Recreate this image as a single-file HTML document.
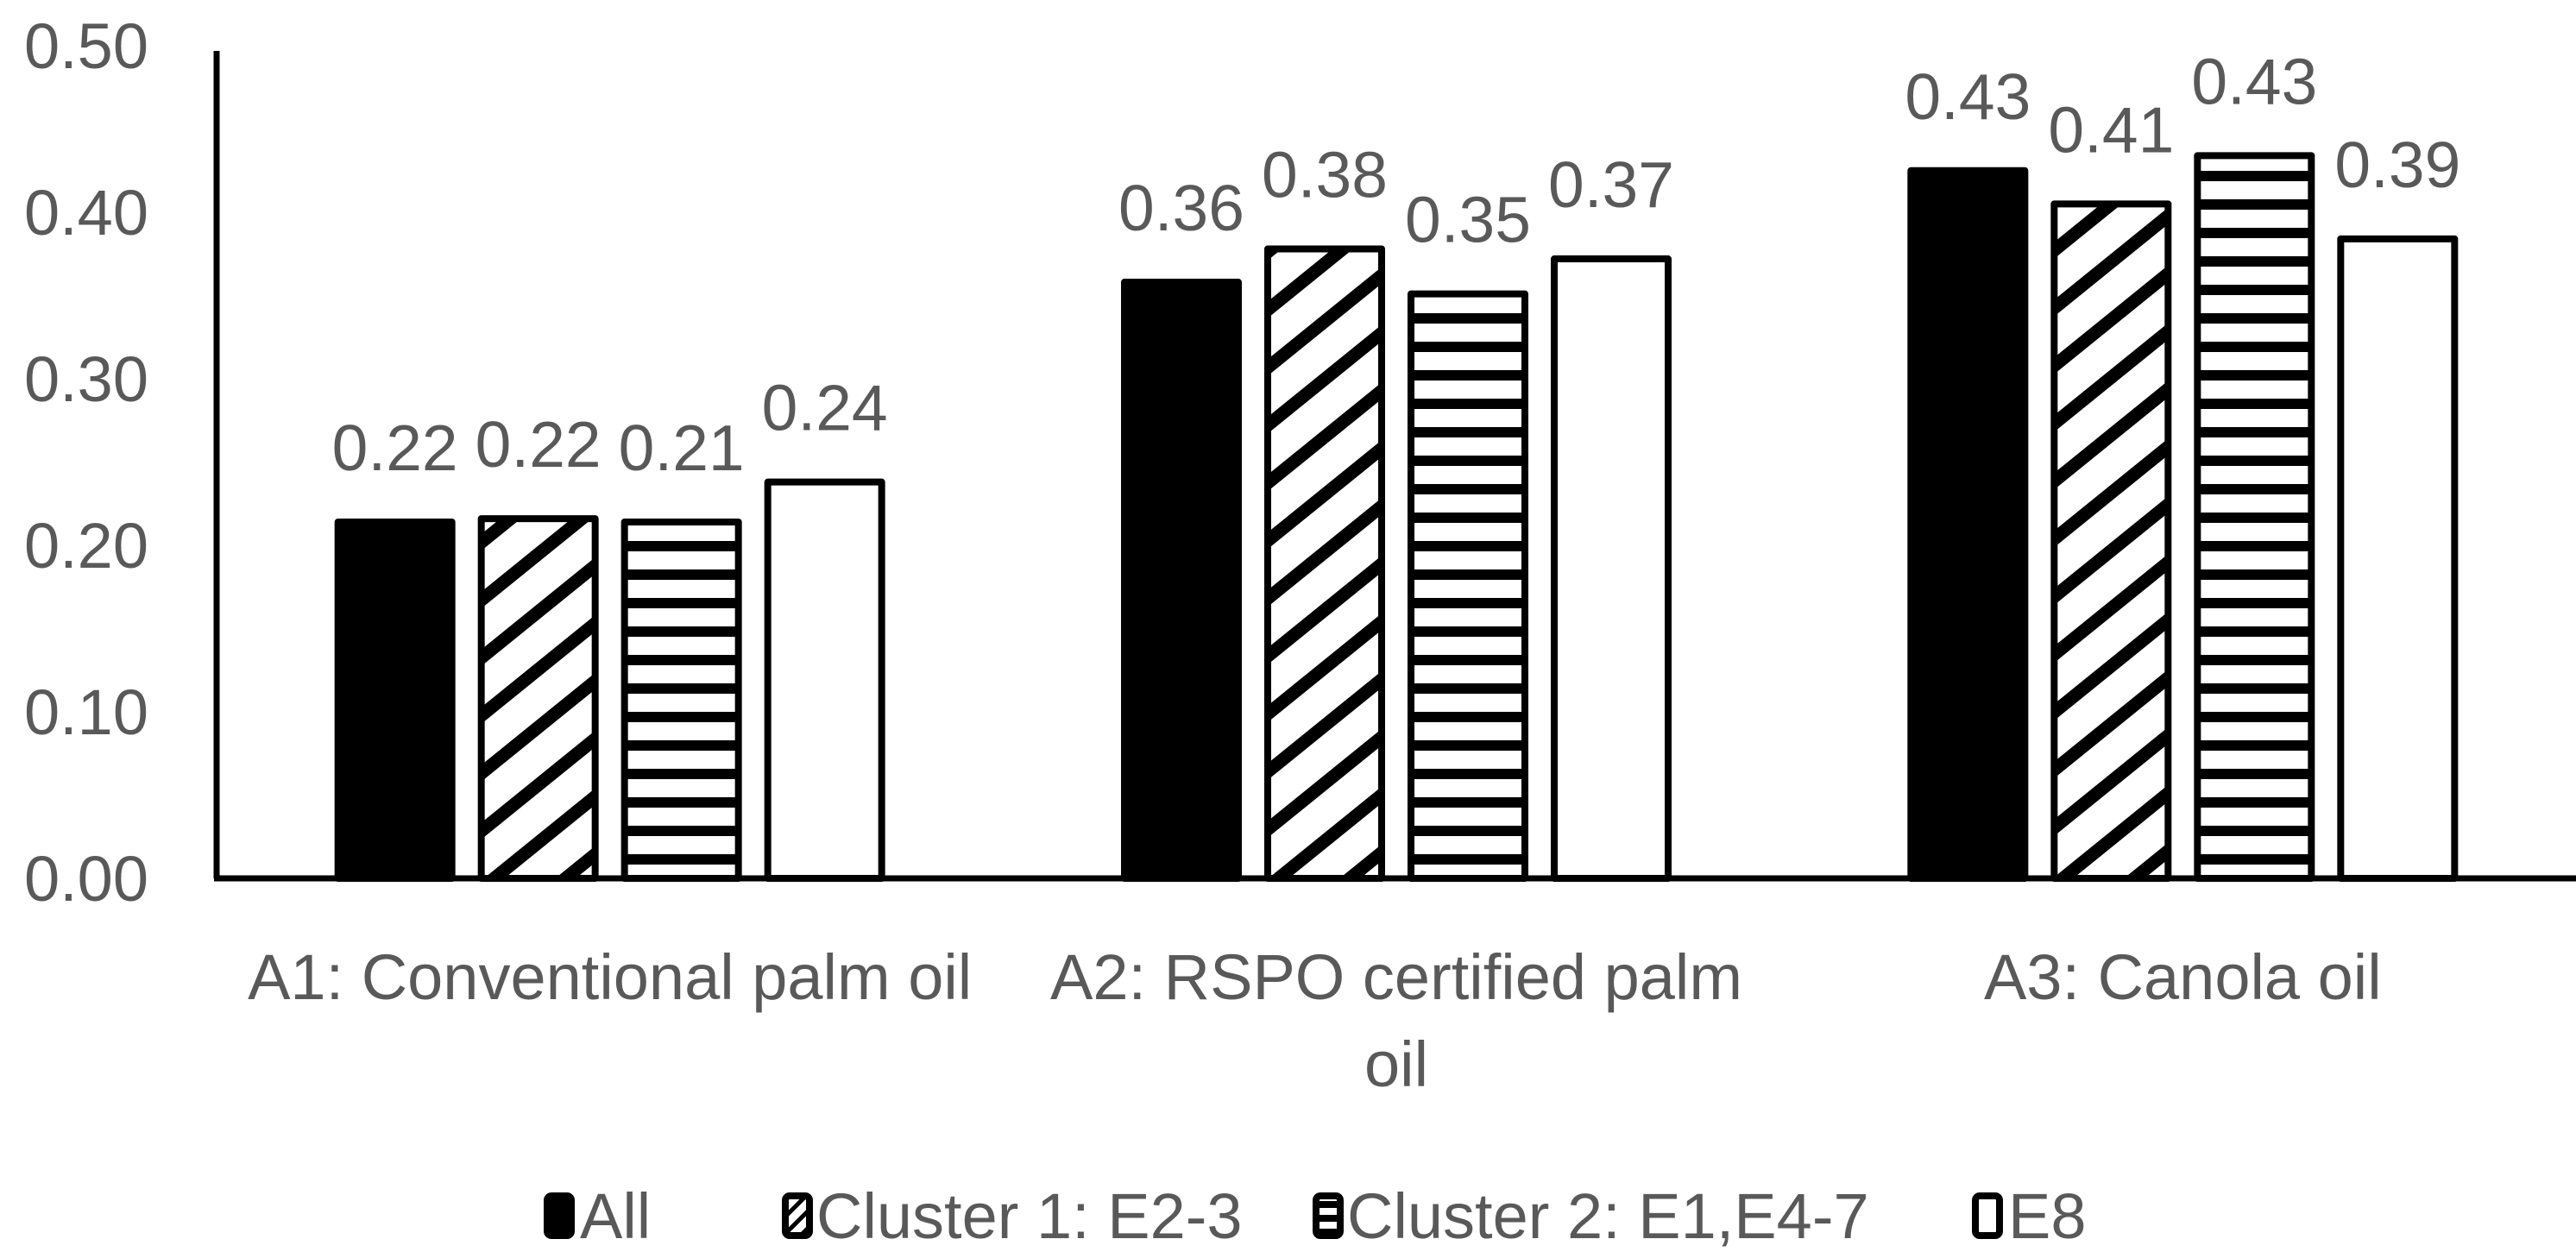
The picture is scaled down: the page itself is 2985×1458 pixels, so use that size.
<!DOCTYPE html>
<html><head><meta charset="utf-8"><style>
html,body{margin:0;padding:0;background:#fff;}
svg{display:block;}
text{font-family:"Liberation Sans",sans-serif;fill:#595959;}
</style></head><body>
<svg id="chart" width="2985" height="1458" viewBox="0 0 2985 1458" xmlns="http://www.w3.org/2000/svg">
<defs>
<pattern id="diag" patternUnits="userSpaceOnUse" width="52" height="52" patternTransform="rotate(-39)">
<rect width="52" height="52" fill="#fff"/><rect width="52" height="15" fill="#000"/>
</pattern>
<pattern id="horiz" patternUnits="userSpaceOnUse" width="40" height="33">
<rect width="40" height="33" fill="#fff"/><rect y="0" width="40" height="12" fill="#000"/>
</pattern>
<pattern id="diagS" patternUnits="userSpaceOnUse" width="14" height="14" patternTransform="rotate(-45)">
<rect width="14" height="14" fill="#fff"/><rect width="14" height="5" fill="#000"/>
</pattern>
<pattern id="horizS" patternUnits="userSpaceOnUse" width="10" height="16">
<rect width="10" height="16" fill="#fff"/><rect width="10" height="8" fill="#000"/>
</pattern>
</defs>
<g id="grid"></g>
<g id="bars"></g>
<g id="labels"></g>
<g id="legend"></g>
</svg>
<script>
const categories = [["A1: Conventional palm oil"], ["A2: RSPO certified palm", "oil"], ["A3: Canola oil"]];
const seriesNames = ["All", "Cluster 1: E2-3", "Cluster 2: E1,E4-7", "E8"];
const seriesAll = [0.214, 0.358, 0.425];
const seriesCluster1 = [0.216, 0.378, 0.405];
const seriesCluster2 = [0.214, 0.351, 0.434];
const seriesE8 = [0.238, 0.372, 0.384];
const valueLabelsAll = ["0.22", "0.36", "0.43"];
const valueLabelsC1 = ["0.22", "0.38", "0.41"];
const valueLabelsC2 = ["0.21", "0.35", "0.43"];
const valueLabelsE8 = ["0.24", "0.37", "0.39"];
const yTicks = [0, 0.1, 0.2, 0.3, 0.4, 0.5];
const yTickLabels = ["0.00", "0.10", "0.20", "0.30", "0.40", "0.50"];

const NS = "http://www.w3.org/2000/svg";
const x0 = 251, x1 = 2985, yBase = 1018, yScale = 1930;
const catW = (x1 - x0) / categories.length;
function yPos(v) { return yBase - v * yScale; }
function catCenter(i) { return x0 + catW * (i + 0.5); }
const pitch = 166, barW = 132;
function barX(ci, si) { return catCenter(ci) + (si - 1.5) * pitch - barW / 2; }
function mk(tag, attrs, parent) {
  const e = document.createElementNS(NS, tag);
  for (const k in attrs) e.setAttribute(k, attrs[k]);
  parent.appendChild(e);
  return e;
}
const grid = document.getElementById('grid');
const barsG = document.getElementById('bars');
const labelsG = document.getElementById('labels');
const legendG = document.getElementById('legend');

yTicks.forEach((t, i) => {
  const tx = mk('text', {x: 172, y: yPos(t) + 26, 'text-anchor': 'end', 'font-size': 74}, grid);
  tx.textContent = yTickLabels[i];
  
  
});
const ya = mk('line', {x1: x0, y1: 59, x2: x0, y2: yBase, stroke: '#000', 'stroke-width': 7}, grid);



const series = [seriesAll, seriesCluster1, seriesCluster2, seriesE8];
const vlabels = [valueLabelsAll, valueLabelsC1, valueLabelsC2, valueLabelsE8];
const fills = ['#000', 'url(#diag)', 'url(#horiz)', '#fff'];
const legFills = ['#000', 'url(#diagS)', 'url(#horizS)', '#fff'];
const barNames = ['bar-all', 'bar-cluster1', 'bar-cluster2', 'bar-e8'];
series.forEach((s, si) => {
  s.forEach((v, ci) => {
    const x = barX(ci, si), y = yPos(v);
    const r = mk('rect', {x: x, y: y, width: barW, height: yBase - y, fill: fills[si], stroke: '#000', 'stroke-width': 8, 'stroke-linejoin': 'round'}, barsG);
    
    
    const t = mk('text', {x: x + barW / 2, y: y - 60, 'text-anchor': 'middle', 'font-size': 75}, labelsG);
    t.textContent = vlabels[si][ci];
    
    
  });
});
const xa = mk('line', {x1: x0 - 3, y1: yBase, x2: x1, y2: yBase, stroke: '#000', 'stroke-width': 7}, grid);



categories.forEach((lines, ci) => {
  lines.forEach((ln, li) => {
    const t = mk('text', {x: catCenter(ci), y: 1158 + li * 101, 'text-anchor': 'middle', 'font-size': 74}, labelsG);
    t.textContent = ln;
    
    
  });
});

const legSq = [634, 910, 1525, 2289];
const legTx = [672, 946, 1561, 2327];
seriesNames.forEach((n, i) => {
  const r = mk('rect', {x: legSq[i], y: 1386, width: 28, height: 46, rx: 5, fill: legFills[i], stroke: '#000', 'stroke-width': 8}, legendG);
  
  
  const t = mk('text', {x: legTx[i], y: 1435, 'font-size': 74}, legendG);
  t.textContent = n;
  
  
});
</script>
</body></html>
